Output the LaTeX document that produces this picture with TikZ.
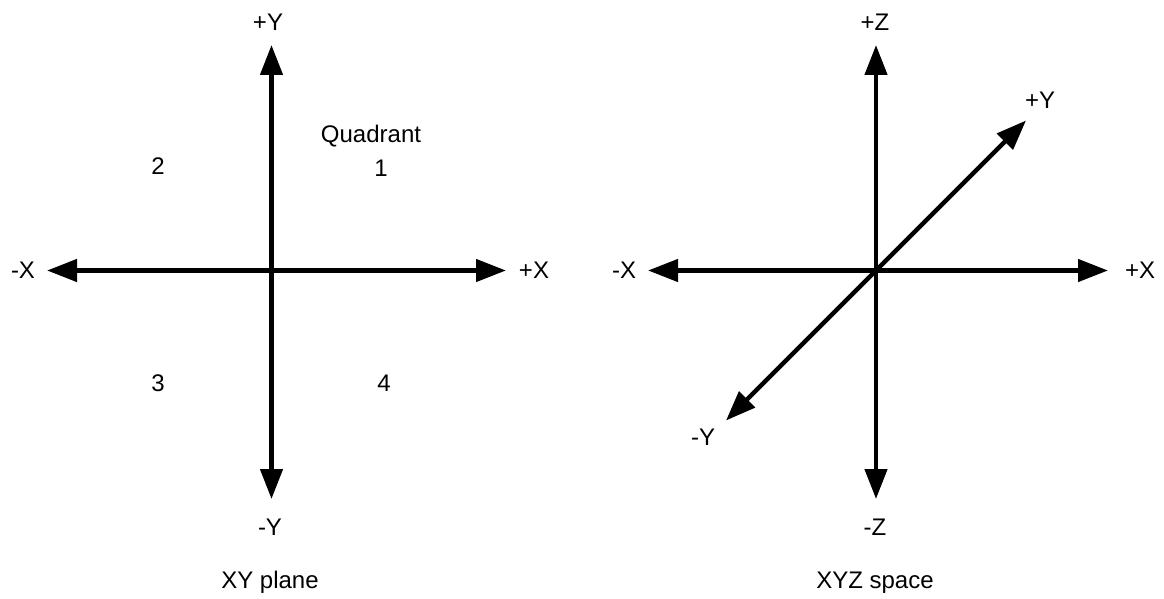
\documentclass[tikz,border=0pt]{standalone}
\usepackage{fontspec}
\setmainfont{Liberation Sans}
\usetikzlibrary{arrows.meta}

\begin{document}
\begin{tikzpicture}[
  x=1pt, y=-1pt,
  font=\fontsize{24}{28}\selectfont,
  lbl/.style={inner sep=0pt, text height=17.2pt, text depth=0pt},
  axis/.style={{Triangle[length=30pt,width=22pt]}-{Triangle[length=30pt,width=22pt]},
    line width=4.5pt},
]
  \useasboundingbox (0,0) rectangle (1164,599);

  % (a) XY plane
  \coordinate (xy-left)   at (47,270.5);
  \coordinate (xy-right)  at (506,270.5);
  \coordinate (xy-top)    at (271.5,45);
  \coordinate (xy-bottom) at (271.5,499);
  \draw[axis] (xy-left) -- (xy-right);
  \draw[axis] (xy-bottom) -- (xy-top);
  \node[lbl] (xy-minus-x) at (23,270) {-X};
  \node[lbl] (xy-plus-x)  at (534,270) {+X};
  \node[lbl] (xy-plus-y)  at (268,22) {+Y};
  \node[lbl] (xy-minus-y) at (270,527) {-Y};
  \node[lbl] (quadrant)   at (371,134) {Quadrant};
  \node[lbl] (quad-1)     at (381,168) {1};
  \node[lbl] (quad-2)     at (158,166) {2};
  \node[lbl] (quad-3)     at (158,383) {3};
  \node[lbl] (quad-4)     at (384,383) {4};
  \node[lbl] (xy-title)   at (270,580) {XY plane};

  % (b) XYZ space
  \coordinate (xyz-left)   at (648,270.5);
  \coordinate (xyz-right)  at (1108,270.5);
  \coordinate (xyz-top)    at (876,45);
  \coordinate (xyz-bottom) at (876,499);
  \coordinate (xyz-front)  at (726,420.5);
  \coordinate (xyz-back)   at (1026,120.5);
  \draw[axis] (xyz-left) -- (xyz-right);
  \draw[axis] (xyz-bottom) -- (xyz-top);
  \draw[axis] (xyz-front) -- (xyz-back);
  \node[lbl] (xyz-minus-x) at (624,270) {-X};
  \node[lbl] (xyz-plus-x)  at (1140,270) {+X};
  \node[lbl] (xyz-plus-z)  at (875,22) {+Z};
  \node[lbl] (xyz-minus-z) at (875,527) {-Z};
  \node[lbl] (xyz-plus-y)  at (1040,100) {+Y};
  \node[lbl] (xyz-minus-y) at (703,437) {-Y};
  \node[lbl] (xyz-title)   at (875,580) {XYZ space};
\end{tikzpicture}
\end{document}
